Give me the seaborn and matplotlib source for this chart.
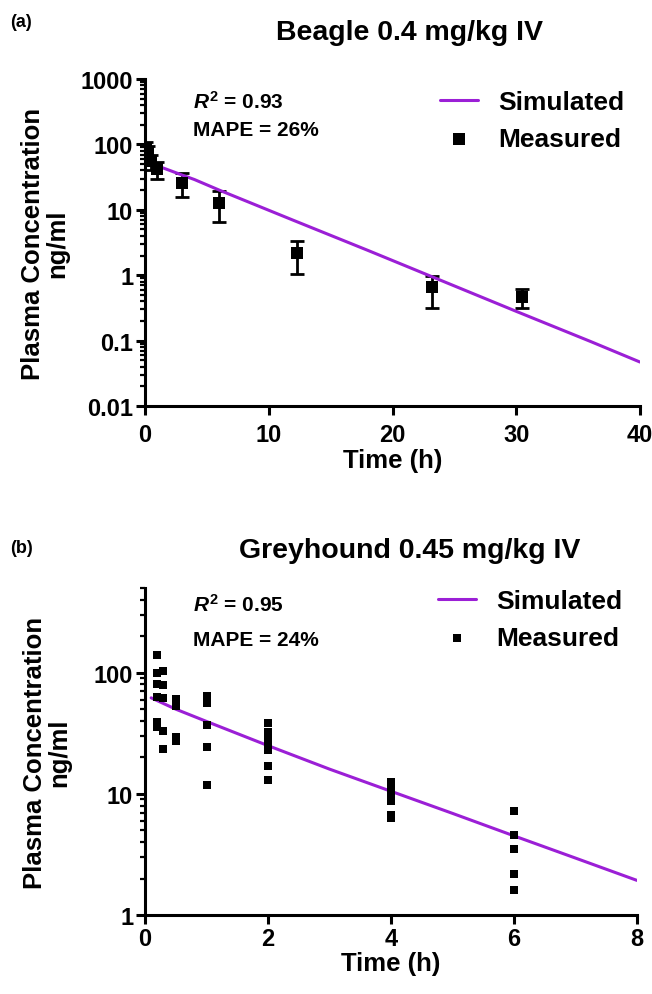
import matplotlib
matplotlib.use("Agg")
import matplotlib.pyplot as plt
import matplotlib.ticker as mticker
import seaborn as sns
import pandas as pd
import numpy as np

# ---- panel (a): Beagle 0.4 mg/kg IV ----
beagle_sim_time = [0.05, 0.2, 0.5, 1, 2, 3, 4, 6, 12, 18, 24, 30, 36, 40]
beagle_sim_conc = [75, 62, 52, 47, 40, 34, 29, 20, 6.9, 2.4, 0.82, 0.28, 0.097, 0.047]

beagle_time = [0.083, 0.25, 0.5, 1, 3, 6, 12.3, 23.2, 30.5]
beagle_conc = [88, 75, 55, 42, 26, 12.8, 2.2, 0.65, 0.46]
beagle_sd = [20, 18, 15, 12, 10.5, 6.3, 1.15, 0.33, 0.15]

# ---- panel (b): Greyhound 0.45 mg/kg IV ----
grey_sim_time = [0.1, 0.5, 1, 2, 3, 4, 5, 6, 7, 8]
grey_sim_conc = [62, 50, 39.6, 25, 16, 10.5, 6.9, 4.5, 2.95, 1.93]

grey_time = ([0.2] * 6 + [0.3] * 5 + [0.5] * 4 + [1] * 5 + [2] * 7
             + [4] * 6 + [6] * 5)
grey_conc = [141, 99, 80, 63.5, 39.5, 35.5,
             103, 79, 62.3, 33.1, 23.6,
             60.8, 52.6, 29.4, 27.1,
             64.7, 56.0, 37.2, 24.3, 11.8,
             38.8, 32.7, 29.2, 25.9, 23.2, 17.1, 12.9,
             12.6, 10.9, 9.6, 8.7, 6.7, 6.3,
             7.2, 4.6, 3.5, 2.2, 1.6]

sim_color = "#9B1FD6"

sns.set_style("ticks")
plt.rcParams["font.family"] = ["Liberation Sans", "DejaVu Sans"]
plt.rcParams["font.weight"] = "bold"
plt.rcParams["text.color"] = "black"
plt.rcParams["axes.labelcolor"] = "black"
plt.rcParams["xtick.color"] = "black"
plt.rcParams["ytick.color"] = "black"
plt.rcParams["mathtext.fontset"] = "custom"
plt.rcParams["mathtext.it"] = "Liberation Sans:italic:bold"
plt.rcParams["mathtext.rm"] = "Liberation Sans:bold"
plt.rcParams["mathtext.bf"] = "Liberation Sans:bold"

W, H = 652, 995
fig = plt.figure(figsize=(W / 100, H / 100), dpi=100)


def px_axes(left, top, right, bottom):
    return fig.add_axes([left / W, 1 - bottom / H, (right - left) / W, (bottom - top) / H])


def ax_y(ax_top, ax_bottom, y):
    return (ax_bottom - y) / (ax_bottom - ax_top)


def style_axes(ax, xpad, ylabelpad):
    sns.despine(ax=ax)
    for s in ["left", "bottom"]:
        ax.spines[s].set_linewidth(2.2)
        ax.spines[s].set_color("black")
    ax.tick_params(axis="both", which="major", length=6.5, width=2.2,
                   labelsize=17, colors="black", pad=2)
    ax.tick_params(axis="x", which="major", pad=xpad)
    ax.tick_params(axis="y", which="minor", length=3.5, width=1.6, colors="black")
    ax.tick_params(axis="x", which="minor", length=0)
    for lab in ax.get_xticklabels() + ax.get_yticklabels():
        lab.set_fontweight("bold")
    ax.set_ylabel("Plasma Concentration\nng/ml", fontsize=18.5, fontweight="bold",
                  linespacing=1.05, labelpad=ylabelpad)
    ax.set_xlabel("Time (h)", fontsize=18.5, fontweight="bold", labelpad=1)


def add_legend(ax, x, y):
    ax.legend(loc="upper right", bbox_to_anchor=(x, y), frameon=False,
              borderaxespad=0, borderpad=0, handlelength=1.45,
              handletextpad=0.75, labelspacing=0.5,
              prop={"weight": "bold", "size": 19})


# ---------------- panel (a) ----------------
a_top, a_bot = 80, 407
ax1 = px_axes(145, a_top, 640, a_bot)
sim_a = pd.DataFrame({"t": beagle_sim_time, "c": beagle_sim_conc})
meas_a = pd.DataFrame({"t": beagle_time, "c": beagle_conc, "sd": beagle_sd})
ax1.errorbar(meas_a["t"], meas_a["c"], yerr=meas_a["sd"], fmt="none",
             ecolor="black", elinewidth=2, capsize=5, capthick=2, zorder=2)
sns.lineplot(data=sim_a, x="t", y="c", ax=ax1, color=sim_color, lw=2.2,
             label="Simulated", zorder=3)
sns.scatterplot(data=meas_a, x="t", y="c", ax=ax1, marker="s", s=85,
                color="black", edgecolor="black", linewidth=0,
                label="Measured", zorder=4)
ax1.set_yscale("log")
ax1.set_ylim(0.01, 1000)
ax1.set_xlim(0, 40)
ax1.set_xticks([0, 10, 20, 30, 40])
ax1.set_yticks([0.01, 0.1, 1, 10, 100, 1000])
ax1.yaxis.set_major_formatter(mticker.FuncFormatter(lambda v, p: f"{v:g}"))
ax1.yaxis.set_minor_locator(mticker.LogLocator(base=10, subs=np.arange(2, 10)))
ax1.yaxis.set_minor_formatter(mticker.NullFormatter())
style_axes(ax1, xpad=6, ylabelpad=8)
add_legend(ax1, (624 - 145) / 495, ax_y(a_top, a_bot, 91))
ax1.text(0.097, ax_y(a_top, a_bot, 102), r"$R^2$ = 0.93", transform=ax1.transAxes,
         fontsize=15, fontweight="bold", va="center")
ax1.text(0.097, ax_y(a_top, a_bot, 131), "MAPE = 26%", transform=ax1.transAxes,
         fontsize=15, fontweight="bold", va="center")

fig.text(10 / W, 1 - 27 / H, "(a)", fontsize=13, fontweight="bold", va="baseline")
fig.text(410 / W, 1 - 40 / H, "Beagle 0.4 mg/kg IV", fontsize=20.5,
         fontweight="bold", ha="center", va="baseline")

# ---------------- panel (b) ----------------
b_top, b_bot = 589, 916
ax2 = px_axes(145, b_top, 637, b_bot)
sim_b = pd.DataFrame({"t": grey_sim_time, "c": grey_sim_conc})
meas_b = pd.DataFrame({"t": grey_time, "c": grey_conc})
sns.lineplot(data=sim_b, x="t", y="c", ax=ax2, color=sim_color, lw=2.2,
             label="Simulated", zorder=3)
sns.scatterplot(data=meas_b, x="t", y="c", ax=ax2, marker="s", s=30,
                color="black", edgecolor="black", linewidth=0,
                label="Measured", zorder=4)
ax2.set_yscale("log")
ax2.set_ylim(1, 500)
ax2.set_xlim(0, 8)
ax2.set_xticks([0, 2, 4, 6, 8])
ax2.set_yticks([1, 10, 100])
ax2.yaxis.set_major_formatter(mticker.FuncFormatter(lambda v, p: f"{v:g}"))
ax2.yaxis.set_minor_locator(mticker.LogLocator(base=10, subs=np.arange(2, 10)))
ax2.yaxis.set_minor_formatter(mticker.NullFormatter())
style_axes(ax2, xpad=2, ylabelpad=16)
add_legend(ax2, (622 - 145) / 492, ax_y(b_top, b_bot, 590))
ax2.text(0.097, ax_y(b_top, b_bot, 605), r"$R^2$ = 0.95", transform=ax2.transAxes,
         fontsize=15, fontweight="bold", va="center")
ax2.text(0.097, ax_y(b_top, b_bot, 641), "MAPE = 24%", transform=ax2.transAxes,
         fontsize=15, fontweight="bold", va="center")

fig.text(10 / W, 1 - 553 / H, "(b)", fontsize=13, fontweight="bold", va="baseline")
fig.text(410 / W, 1 - 558 / H, "Greyhound 0.45 mg/kg IV", fontsize=20.5,
         fontweight="bold", ha="center", va="baseline")

fig.savefig("out.png", dpi=100)
